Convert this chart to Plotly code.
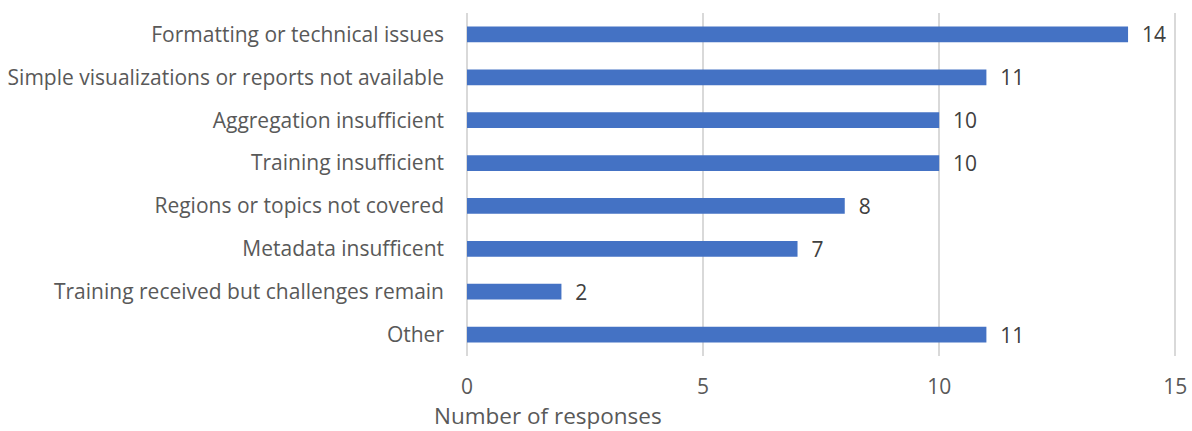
import plotly.graph_objects as go

categories = [
    "Formatting or technical issues",
    "Simple visualizations or reports not available",
    "Aggregation insufficient",
    "Training insufficient",
    "Regions or topics not covered",
    "Metadata insufficent",
    "Training received but challenges remain",
    "Other",
]
values = [14, 11, 10, 10, 8, 7, 2, 11]
x_ticks = [0, 5, 10, 15]
x_title = "Number of responses"

FONT = "'Open Sans', Lato, sans-serif"
W, H = 1192, 431
XMAX = 15.1
L, T, B = 467, 13, 75
R = int(round(W - L - 708 * XMAX / 15))

fig = go.Figure(
    go.Bar(
        x=values,
        y=categories,
        orientation="h",
        marker=dict(color="#4472C4", line=dict(width=0)),
        text=values,
        texttemplate="  %{x}",
        textposition="outside",
        constraintext="none",
        textfont=dict(family=FONT, size=21, color="#404040"),
        cliponaxis=False,
        hoverinfo="skip",
    )
)

fig.update_layout(
    width=W,
    height=H,
    margin=dict(l=L, r=R, t=T, b=B, autoexpand=False),
    paper_bgcolor="white",
    plot_bgcolor="white",
    bargap=0.63,
    showlegend=False,
    font=dict(family=FONT, color="#595959"),
    xaxis=dict(
        range=[0, XMAX],
        tickvals=x_ticks,
        showgrid=True,
        gridcolor="#D9D9D9",
        gridwidth=2,
        zeroline=True,
        zerolinecolor="#D9D9D9",
        zerolinewidth=2,
        showline=False,
        ticks="",
        automargin=False,
        tickfont=dict(family=FONT, size=21, color="#595959"),
        ticklabelstandoff=16,
    ),
    yaxis=dict(
        categoryorder="array",
        categoryarray=categories,
        autorange="reversed",
        showgrid=False,
        zeroline=False,
        showline=False,
        ticks="",
        automargin=False,
        tickfont=dict(family=FONT, size=21, color="#595959"),
        ticklabelstandoff=22,
    ),
    annotations=[
        dict(
            text=x_title,
            xref="paper",
            yref="paper",
            x=(548 - L) / (W - L - R),
            y=(H - B - 415) / (H - T - B),
            xanchor="center",
            yanchor="middle",
            showarrow=False,
            font=dict(family=FONT, size=22.5, color="#595959"),
        )
    ],
)

fig.write_html("out.html")
